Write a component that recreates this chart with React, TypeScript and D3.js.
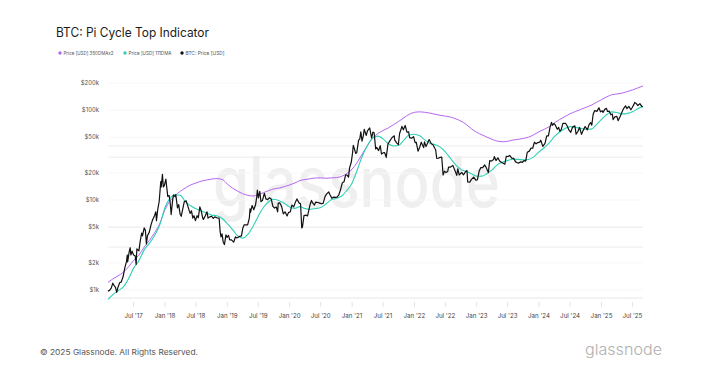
import React from 'react';
import * as d3 from 'd3';

const W = 719;
const H = 371;

// BTC price (roughly 3 points a month)
const btc2017: [string, number][] = [
    ['2017-02-01', 970], ['2017-02-10', 990], ['2017-02-20', 1050], ['2017-03-01', 1190], ['2017-03-10', 1110],
    ['2017-03-17', 1070], ['2017-03-24', 940], ['2017-04-01', 1080], ['2017-04-10', 1200], ['2017-04-20', 1230],
    ['2017-05-01', 1420], ['2017-05-10', 1750], ['2017-05-20', 2050], ['2017-05-25', 2450], ['2017-05-27', 2050],
    ['2017-06-05', 2650], ['2017-06-11', 2950], ['2017-06-15', 2450], ['2017-06-22', 2700], ['2017-07-01', 2450],
    ['2017-07-10', 2400], ['2017-07-16', 1930], ['2017-07-20', 2870], ['2017-08-01', 2720], ['2017-08-08', 3400],
    ['2017-08-17', 4300], ['2017-08-22', 4000], ['2017-09-01', 4900], ['2017-09-08', 4600], ['2017-09-14', 3250],
    ['2017-09-20', 4000], ['2017-10-01', 4400], ['2017-10-12', 5400], ['2017-10-20', 6000], ['2017-11-01', 6750],
    ['2017-11-08', 7400], ['2017-11-12', 5900], ['2017-11-20', 8000], ['2017-11-28', 9700], ['2017-12-07', 16000],
    ['2017-12-10', 14000], ['2017-12-17', 19300], ['2017-12-22', 14000], ['2017-12-28', 14500],
];
const btc2018: [string, number][] = [
    ['2018-01-06', 17100], ['2018-01-10', 14500], ['2018-01-17', 11000], ['2018-01-25', 11200], ['2018-02-01', 9100],
    ['2018-02-06', 6900], ['2018-02-15', 10100], ['2018-02-20', 11400], ['2018-03-01', 10900], ['2018-03-05', 11500],
    ['2018-03-15', 8200], ['2018-03-22', 8900], ['2018-03-31', 6900], ['2018-04-06', 6600], ['2018-04-15', 8000],
    ['2018-04-24', 9600], ['2018-05-05', 9800], ['2018-05-15', 8500], ['2018-05-28', 7100], ['2018-06-05', 7600],
    ['2018-06-13', 6300], ['2018-06-20', 6700], ['2018-06-28', 5900], ['2018-07-08', 6700], ['2018-07-15', 6350],
    ['2018-07-24', 8400], ['2018-08-01', 7600], ['2018-08-10', 6300], ['2018-08-14', 6100], ['2018-08-25', 6700],
    ['2018-09-04', 7400], ['2018-09-10', 6300], ['2018-09-20', 6500], ['2018-10-01', 6600], ['2018-10-11', 6250],
    ['2018-10-20', 6500], ['2018-11-01', 6350], ['2018-11-14', 6300], ['2018-11-20', 4450], ['2018-11-25', 3900],
    ['2018-12-01', 4200], ['2018-12-08', 3400], ['2018-12-15', 3200], ['2018-12-24', 4100], ['2018-12-30', 3850],
];
const btc2019: [string, number][] = [
    ['2019-01-08', 4050], ['2019-01-15', 3600], ['2019-01-25', 3600], ['2019-02-07', 3400], ['2019-02-18', 3900],
    ['2019-02-24', 3800], ['2019-03-05', 3850], ['2019-03-15', 3950], ['2019-03-25', 4000], ['2019-04-02', 4900],
    ['2019-04-10', 5300], ['2019-04-20', 5300], ['2019-04-30', 5300], ['2019-05-10', 6300], ['2019-05-14', 8000],
    ['2019-05-17', 7300], ['2019-05-26', 8700], ['2019-06-05', 7800], ['2019-06-15', 8800], ['2019-06-22', 10700],
    ['2019-06-26', 12900], ['2019-07-02', 10600], ['2019-07-10', 12500], ['2019-07-17', 9600], ['2019-07-26', 9900],
    ['2019-08-06', 11900], ['2019-08-15', 10300], ['2019-08-25', 10100], ['2019-09-05', 10600], ['2019-09-15', 10300],
    ['2019-09-25', 8500], ['2019-10-05', 8150], ['2019-10-15', 8350], ['2019-10-23', 7400], ['2019-10-26', 9250],
    ['2019-11-05', 9300], ['2019-11-15', 8500], ['2019-11-25', 7000], ['2019-12-05', 7400], ['2019-12-17', 6650],
    ['2019-12-25', 7250],
];
const btc2020: [string, number][] = [
    ['2020-01-05', 7400], ['2020-01-14', 8800], ['2020-01-25', 8400], ['2020-02-05', 9600], ['2020-02-13', 10300],
    ['2020-02-25', 9300], ['2020-03-05', 9100], ['2020-03-12', 4900], ['2020-03-16', 5000], ['2020-03-25', 6700],
    ['2020-04-05', 6800], ['2020-04-15', 6650], ['2020-04-29', 8800], ['2020-05-08', 9900], ['2020-05-15', 9300],
    ['2020-05-25', 8800], ['2020-06-02', 9500], ['2020-06-15', 9400], ['2020-06-25', 9250], ['2020-07-05', 9100],
    ['2020-07-15', 9200], ['2020-07-27', 11000], ['2020-08-05', 11700], ['2020-08-17', 12300], ['2020-08-25', 11400],
    ['2020-09-04', 10500], ['2020-09-15', 10800], ['2020-09-25', 10700], ['2020-10-05', 10800], ['2020-10-15', 11400],
    ['2020-10-25', 13000], ['2020-11-05', 15600], ['2020-11-15', 16000], ['2020-11-24', 19100], ['2020-12-01', 19000],
    ['2020-12-11', 18000], ['2020-12-17', 22800], ['2020-12-27', 26300],
];
const btc2021: [string, number][] = [
    ['2021-01-03', 32800], ['2021-01-08', 40600], ['2021-01-15', 36800], ['2021-01-22', 33000], ['2021-01-28', 33500],
    ['2021-02-08', 46400], ['2021-02-15', 48000], ['2021-02-21', 57500], ['2021-02-28', 45200], ['2021-03-08', 52400],
    ['2021-03-13', 61200], ['2021-03-25', 52300], ['2021-04-01', 58800], ['2021-04-14', 63500], ['2021-04-25', 49000],
    ['2021-05-03', 57000], ['2021-05-10', 56000], ['2021-05-19', 37000], ['2021-05-25', 38500], ['2021-06-05', 35500],
    ['2021-06-15', 40200], ['2021-06-22', 32500], ['2021-07-01', 33500], ['2021-07-10', 33800], ['2021-07-20', 29800],
    ['2021-07-30', 42000], ['2021-08-10', 45500], ['2021-08-22', 49300], ['2021-09-05', 51800], ['2021-09-07', 46800],
    ['2021-09-20', 43000], ['2021-09-29', 41500], ['2021-10-06', 55000], ['2021-10-20', 66000], ['2021-10-28', 60500],
    ['2021-11-08', 67500], ['2021-11-18', 56900], ['2021-11-28', 57300], ['2021-12-04', 49400], ['2021-12-15', 48800],
    ['2021-12-27', 50700],
];
const btc2022: [string, number][] = [
    ['2022-01-05', 43500], ['2022-01-12', 43900], ['2022-01-22', 35000], ['2022-02-01', 38700], ['2022-02-10', 44000],
    ['2022-02-24', 38300], ['2022-03-01', 44400], ['2022-03-10', 39300], ['2022-03-28', 47100], ['2022-04-10', 42200],
    ['2022-04-20', 41300], ['2022-04-30', 37700], ['2022-05-05', 36500], ['2022-05-12', 29000], ['2022-05-20', 29200],
    ['2022-06-01', 29800], ['2022-06-10', 30100], ['2022-06-18', 19000], ['2022-06-26', 21000], ['2022-07-05', 20200],
    ['2022-07-15', 20800], ['2022-07-20', 23200], ['2022-08-01', 23300], ['2022-08-14', 24300], ['2022-08-25', 21600],
    ['2022-09-06', 18800], ['2022-09-12', 22300], ['2022-09-20', 19000], ['2022-10-05', 20300], ['2022-10-15', 19100],
    ['2022-10-29', 20800], ['2022-11-05', 21300], ['2022-11-09', 15900], ['2022-11-21', 15800], ['2022-12-01', 17000],
    ['2022-12-14', 18000], ['2022-12-28', 16600],
];
const btc2023: [string, number][] = [
    ['2023-01-05', 16800], ['2023-01-15', 20900], ['2023-01-25', 23000], ['2023-02-05', 23000], ['2023-02-16', 24600],
    ['2023-02-25', 23100], ['2023-03-10', 20200], ['2023-03-18', 27400], ['2023-03-28', 27100], ['2023-04-10', 28300],
    ['2023-04-14', 30500], ['2023-04-24', 27500], ['2023-05-05', 29500], ['2023-05-15', 27200], ['2023-05-25', 26300],
    ['2023-06-05', 25700], ['2023-06-15', 25100], ['2023-06-23', 30700], ['2023-07-05', 30500], ['2023-07-13', 31400],
    ['2023-07-25', 29200], ['2023-08-05', 29100], ['2023-08-17', 26600], ['2023-08-25', 26100], ['2023-09-05', 25800],
    ['2023-09-15', 26600], ['2023-09-25', 26300], ['2023-10-05', 27400], ['2023-10-15', 27100], ['2023-10-24', 34000],
    ['2023-11-05', 35000], ['2023-11-15', 37800], ['2023-11-25', 37700], ['2023-12-05', 44000], ['2023-12-15', 42200],
    ['2023-12-25', 43600],
];
const btc2024: [string, number][] = [
    ['2024-01-05', 44100], ['2024-01-11', 46300], ['2024-01-23', 39500], ['2024-02-05', 42700], ['2024-02-15', 51900],
    ['2024-02-25', 51700], ['2024-03-05', 63800], ['2024-03-14', 73100], ['2024-03-20', 67900], ['2024-03-28', 71000],
    ['2024-04-05', 68500], ['2024-04-17', 61300], ['2024-04-25', 64300], ['2024-05-01', 58300], ['2024-05-10', 60800],
    ['2024-05-20', 71400], ['2024-06-05', 71100], ['2024-06-15', 66200], ['2024-06-24', 60300], ['2024-07-05', 56700],
    ['2024-07-15', 64800], ['2024-07-29', 66800], ['2024-08-05', 54000], ['2024-08-15', 57500], ['2024-08-25', 64200],
    ['2024-09-06', 53900], ['2024-09-15', 59200], ['2024-09-27', 65800], ['2024-10-10', 60300], ['2024-10-20', 69000],
    ['2024-10-29', 72700], ['2024-11-05', 68000], ['2024-11-13', 90000], ['2024-11-22', 98900], ['2024-12-05', 97000],
    ['2024-12-17', 106100], ['2024-12-26', 95800],
];
const btc2025: [string, number][] = [
    ['2025-01-05', 98300], ['2025-01-10', 94500], ['2025-01-20', 102000], ['2025-01-30', 104700], ['2025-02-05', 96600],
    ['2025-02-15', 97500], ['2025-02-25', 88700], ['2025-03-05', 90600], ['2025-03-10', 78600], ['2025-03-20', 84200],
    ['2025-04-01', 85100], ['2025-04-08', 76300], ['2025-04-20', 85200], ['2025-04-30', 94200], ['2025-05-10', 104000],
    ['2025-05-22', 111700], ['2025-05-30', 103900], ['2025-06-10', 110200], ['2025-06-22', 101000], ['2025-06-30', 107100],
    ['2025-07-10', 116000], ['2025-07-14', 122000], ['2025-07-25', 117600], ['2025-08-02', 112500], ['2025-08-14', 118300],
    ['2025-08-20', 113300], ['2025-08-29', 108400],
];

// monthly values of the two moving averages, starting Feb 2017
const maStart = '2017-02-01';
const ma111 = [
    786, 889, 981, 1076, 1334, 1749, 2119, 2792, 3303, 4041, 5278,
    8270, 10597, 11473, 11297, 9541, 8632, 7992, 7549, 7176, 6800, 6695, 6268,
    5465, 4689, 4022, 3768, 4146, 5119, 6612, 8316, 9651, 10192, 9816, 9214,
    8359, 8084, 8454, 8030, 7914, 8051, 8257, 9038, 10084, 10446, 11086, 12781,
    15511, 21846, 30689, 40419, 48959, 51405, 47919, 42270, 39973, 40635, 46703, 52932,
    53973, 51824, 46986, 42878, 41365, 38824, 34378, 28878, 24530, 21878, 20797, 19662,
    18395, 18465, 19627, 21676, 24622, 26381, 27432, 28503, 28338, 27997, 28289, 30205,
    34300, 38419, 43257, 51014, 57230, 62608, 65649, 64284, 62743, 61405, 61500, 68419,
    78919, 89324, 95689, 94311, 90811, 92027, 95811, 103568, 110162,
];
const ma350x2 = [
    1216, 1324, 1438, 1566, 1806, 2133, 2439, 2993, 3558, 4335, 5463,
    7825, 9842, 11200, 12533, 13650, 14750, 15450, 16217, 16683, 17117, 17317, 16967,
    15083, 13533, 12617, 11758, 11292, 11092, 11508, 12092, 12758, 13308, 13608, 14108,
    14708, 15492, 16492, 16917, 17267, 17600, 17633, 17467, 17633, 17767, 18367, 19717,
    22083, 26433, 32483, 40400, 48700, 54983, 59317, 63383, 69017, 74900, 82500, 89833,
    94500, 95667, 94750, 92750, 90167, 87633, 85800, 83717, 79883, 75517, 69200, 62050,
    56633, 53050, 50183, 47350, 45233, 44517, 45050, 46483, 47367, 48450, 50100, 53250,
    57500, 61250, 65617, 72617, 78733, 84900, 91283, 96517, 101800, 107417, 113333, 121667,
    131000, 140583, 148167, 151167, 154583, 161000, 167667, 176417, 185750,
];

const yTicks = [1000, 2000, 5000, 10000, 20000, 50000, 100000, 200000];
const yTickLabels = ['$1k', '$2k', '$5k', '$10k', '$20k', '$50k', '$100k', '$200k'];
const gridValues = [3000, 5000, 30000, 40000];

const legend = [
    { label: 'Price [USD] 350DMAx2', color: '#b566f2', x: 60, w: 50 },
    { label: 'Price [USD] 111DMA', color: '#30d0b4', x: 125, w: 43 },
    { label: 'BTC: Price [USD]', color: '#111111', x: 182, w: 39 },
];

const FONT = 'Inter, "Noto Sans", sans-serif';

export default function App() {
    const parse = d3.timeParse('%Y-%m-%d');
    const price = [...btc2017, ...btc2018, ...btc2019, ...btc2020, ...btc2021, ...btc2022, ...btc2023, ...btc2024, ...btc2025]
        .map(([d, v]) => ({ date: parse(d) as Date, value: v }));

    const start = parse(maStart) as Date;
    const maDates = ma111.map((_, i) => d3.timeMonth.offset(start, i));
    const fast = ma111.map((v, i) => ({ date: maDates[i], value: v }));
    const slow = ma350x2.map((v, i) => ({ date: maDates[i], value: v }));

    const x = d3
        .scaleTime()
        .domain([start, maDates[maDates.length - 1]])
        .range([108, 643]);

    const y = d3.scaleLog().domain([814, 246000]).range([298, 75]);

    const line = d3
        .line<{ date: Date; value: number }>()
        .x(d => x(d.date))
        .y(d => y(d.value));
    const smooth = d3
        .line<{ date: Date; value: number }>()
        .x(d => x(d.date))
        .y(d => y(d.value))
        .curve(d3.curveMonotoneX);

    const xTicks = x.ticks(d3.timeMonth.every(6) as d3.TimeInterval);
    const fmt = d3.timeFormat("%b '%y");

    return (
        <svg width={W} height={H} style={{ position: 'absolute', left: 0, top: 0, background: '#fff' }}>
            <text x={56} y={37} fontFamily={FONT} fontSize={12.5} fill="#1b1b1b" textLength={153} lengthAdjust="spacingAndGlyphs">
                BTC: Pi Cycle Top Indicator
            </text>

            {legend.map(l => (
                <g key={l.label}>
                    <circle cx={l.x} cy={53} r={1.7} fill={l.color} />
                    <text x={l.x + 3.5} y={54.8} fontFamily={FONT} fontSize={5} fill="#555" textLength={l.w} lengthAdjust="spacingAndGlyphs">
                        {l.label}
                    </text>
                </g>
            ))}

            {/* watermark */}
            <text x={213} y={207} fontFamily={FONT} fontSize={70} fontWeight={500} fill="#efefef" textLength={287} lengthAdjust="spacingAndGlyphs">
                glassnode
            </text>

            {yTicks.map(t => (
                <line key={'g' + t} x1={108} x2={643} y1={y(t)} y2={y(t)} stroke="#f7f7f7" strokeWidth={1} />
            ))}
            {gridValues.map(t => (
                <line key={'h' + t} x1={108} x2={643} y1={y(t)} y2={y(t)} stroke="#ececec" strokeWidth={1} />
            ))}
            <line x1={108} x2={643} y1={298} y2={298} stroke="#e6e6e6" strokeWidth={1} />

            {yTicks.map((t, i) => (
                <text key={'yl' + t} x={99} y={y(t) + 2} textAnchor="end" fontFamily={FONT} fontSize={6} fill="#555">
                    {yTickLabels[i]}
                </text>
            ))}

            {xTicks.map(t => (
                <g key={'x' + t.getTime()}>
                    <line x1={x(t)} x2={x(t)} y1={302} y2={307} stroke="#e2e2e2" strokeWidth={1} />
                    <text x={x(t)} y={317.5} textAnchor="middle" fontFamily={FONT} fontSize={6.2} fill="#444">
                        {fmt(t)}
                    </text>
                </g>
            ))}

            <path d={smooth(slow) || ''} fill="none" stroke={legend[0].color} strokeWidth={1} />
            <path d={smooth(fast) || ''} fill="none" stroke={legend[1].color} strokeWidth={1.1} />
            <path d={line(price) || ''} fill="none" stroke="#111" strokeWidth={1.2} strokeLinejoin="round" />

            <text x={40} y={355} fontFamily={FONT} fontSize={7.6} fill="#555" textLength={158} lengthAdjust="spacingAndGlyphs">
                © 2025 Glassnode. All Rights Reserved.
            </text>
            <text x={585} y={355} fontFamily={FONT} fontSize={15} fontWeight={300} fill="#b0b0b0" textLength={77} lengthAdjust="spacingAndGlyphs">
                glassnode
            </text>
        </svg>
    );
}
